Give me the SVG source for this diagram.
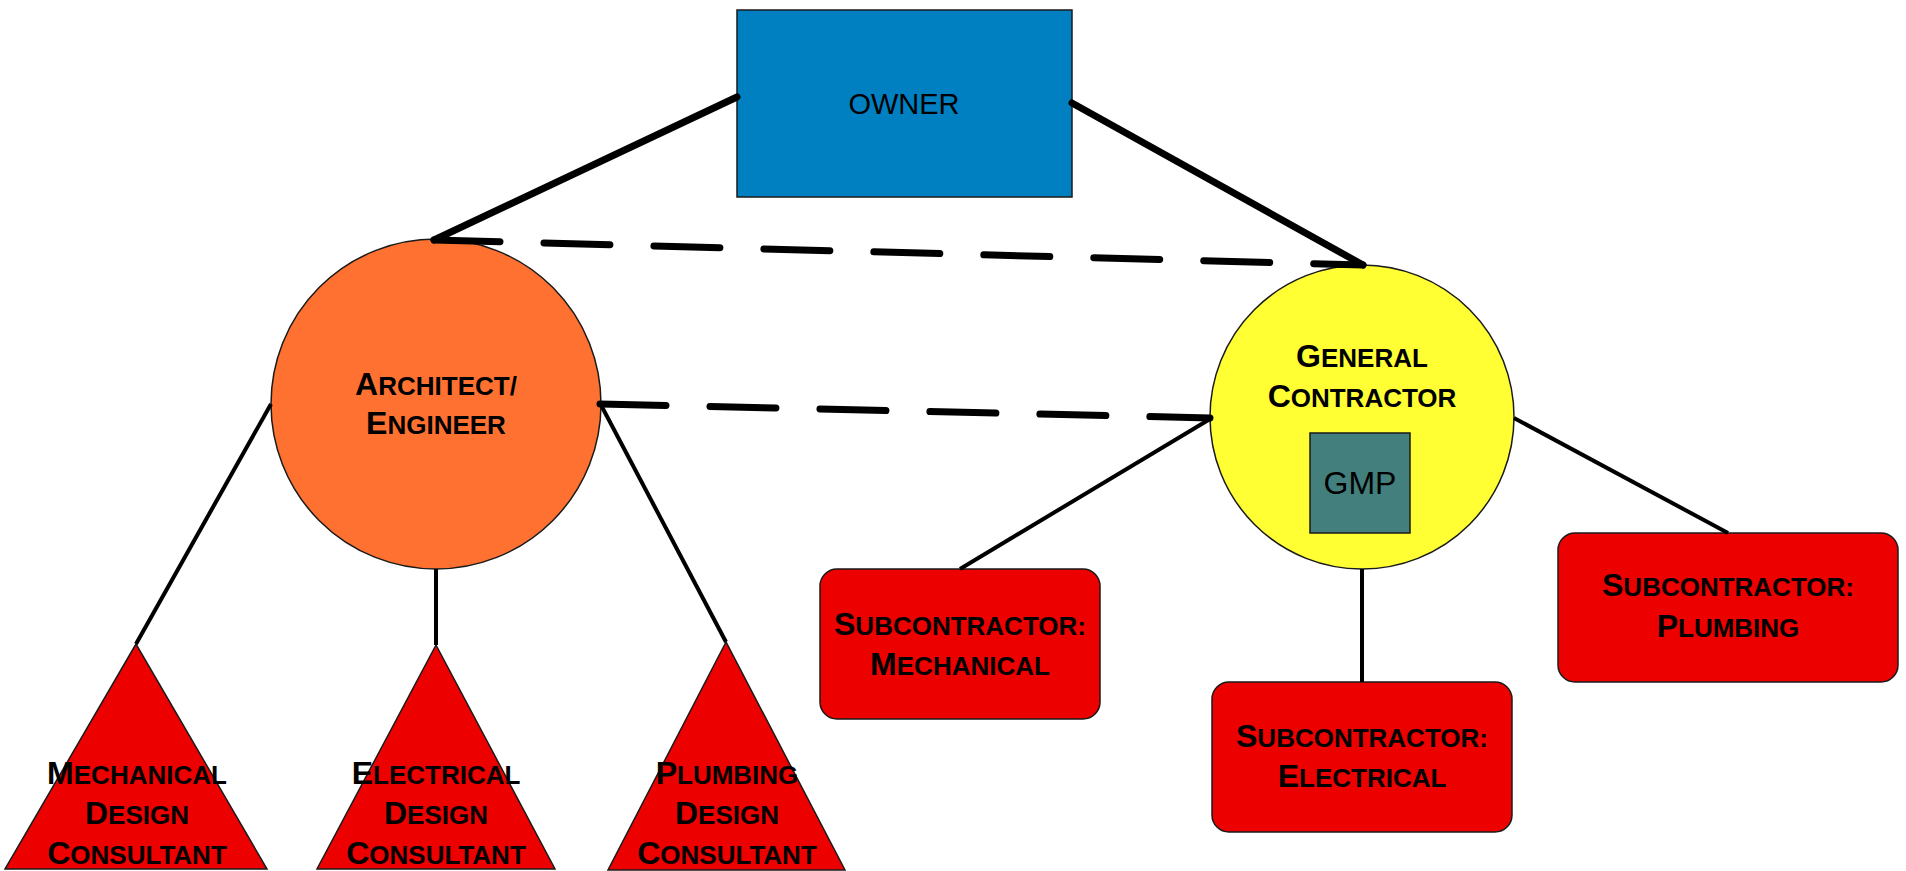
<svg xmlns="http://www.w3.org/2000/svg" width="1906" height="871" viewBox="0 0 1906 871">
<style>
.lbl{font-family:"Liberation Sans",Arial,sans-serif;font-weight:bold;font-size:26px;text-anchor:middle;fill:#000}
.big{font-size:32px}
.reg{font-family:"Liberation Sans",Arial,sans-serif;text-anchor:middle;fill:#000}
.shape{stroke:#1a1a1a;stroke-width:1.5}
.sub{fill:#EC0000;stroke:#1a1a1a;stroke-width:1.5}
.thick{stroke:#000;stroke-width:7;stroke-linecap:round;fill:none}
.dash{stroke:#000;stroke-width:7;stroke-linecap:round;stroke-dasharray:66 44;fill:none}
.thin{stroke:#000;stroke-width:4;fill:none}
</style>
<rect width="1906" height="871" fill="#fff"/>
<g id="owner">
<rect class="shape" x="737" y="10" width="335" height="187" fill="#007FC1"/>
<text class="reg" x="904" y="114" font-size="29">OWNER</text>
</g>
<g id="architect">
<circle class="shape" cx="436" cy="404" r="165" fill="#FF7130"/>
<text class="lbl" x="436" y="395"><tspan class="big">A</tspan>RCHITECT/</text>
<text class="lbl" x="436" y="434"><tspan class="big">E</tspan>NGINEER</text>
</g>
<g id="general-contractor">
<circle class="shape" cx="1362" cy="417" r="152" fill="#FFFF33"/>
<text class="lbl" x="1362" y="367"><tspan class="big">G</tspan>ENERAL</text>
<text class="lbl" x="1362" y="407"><tspan class="big">C</tspan>ONTRACTOR</text>
</g>
<g id="gmp">
<rect class="shape" x="1310" y="433" width="100" height="100" fill="#427F7D"/>
<text class="reg" x="1360" y="494" font-size="32">GMP</text>
</g>
<g id="mech-consultant">
<polygon class="sub" points="136,644 5,869 267,869"/>
<text class="lbl" x="137" y="784"><tspan class="big">M</tspan>ECHANICAL</text>
<text class="lbl" x="137" y="824"><tspan class="big">D</tspan>ESIGN</text>
<text class="lbl" x="137" y="864"><tspan class="big">C</tspan>ONSULTANT</text>
</g>
<g id="elec-consultant">
<polygon class="sub" points="436,645 317,869 555,869"/>
<text class="lbl" x="436" y="784"><tspan class="big">E</tspan>LECTRICAL</text>
<text class="lbl" x="436" y="824"><tspan class="big">D</tspan>ESIGN</text>
<text class="lbl" x="436" y="864"><tspan class="big">C</tspan>ONSULTANT</text>
</g>
<g id="plumb-consultant">
<polygon class="sub" points="726,642 608,870 845,870"/>
<text class="lbl" x="727" y="784"><tspan class="big">P</tspan>LUMBING</text>
<text class="lbl" x="727" y="824"><tspan class="big">D</tspan>ESIGN</text>
<text class="lbl" x="727" y="864"><tspan class="big">C</tspan>ONSULTANT</text>
</g>
<g id="sub-mechanical">
<rect class="sub" x="820" y="569" width="280" height="150" rx="17"/>
<text class="lbl" x="960" y="635"><tspan class="big">S</tspan>UBCONTRACTOR:</text>
<text class="lbl" x="960" y="675"><tspan class="big">M</tspan>ECHANICAL</text>
</g>
<g id="sub-electrical">
<rect class="sub" x="1212" y="682" width="300" height="150" rx="17"/>
<text class="lbl" x="1362" y="747"><tspan class="big">S</tspan>UBCONTRACTOR:</text>
<text class="lbl" x="1362" y="787"><tspan class="big">E</tspan>LECTRICAL</text>
</g>
<g id="sub-plumbing">
<rect class="sub" x="1558" y="533" width="340" height="149" rx="17"/>
<text class="lbl" x="1728" y="596"><tspan class="big">S</tspan>UBCONTRACTOR:</text>
<text class="lbl" x="1728" y="637"><tspan class="big">P</tspan>LUMBING</text>
</g>
<g id="connectors">
<line class="thick" x1="737" y1="97" x2="434" y2="240"/>
<line class="thick" x1="1072" y1="103" x2="1363" y2="265"/>
<line class="dash" x1="434" y1="240" x2="1363" y2="265"/>
<line class="dash" x1="600" y1="404" x2="1210" y2="418"/>
<line class="thin" x1="271" y1="404" x2="136" y2="644"/>
<line class="thin" x1="436" y1="569" x2="436" y2="645"/>
<line class="thin" x1="601" y1="405" x2="726" y2="642"/>
<line class="thin" x1="1210" y1="419" x2="960" y2="569"/>
<line class="thin" x1="1362" y1="569" x2="1362" y2="682"/>
<line class="thin" x1="1514" y1="418" x2="1728" y2="533"/>
</g>
</svg>
